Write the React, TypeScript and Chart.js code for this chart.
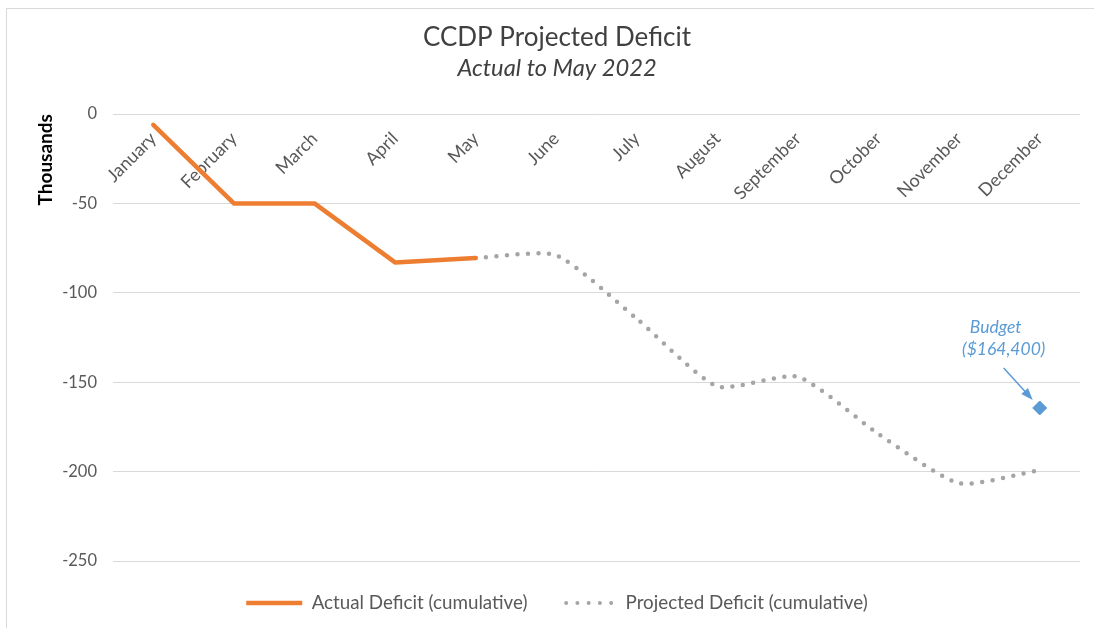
import React, { useEffect, useRef } from 'react';
import { Chart, registerables } from 'chart.js';

Chart.register(...registerables);

const months = ['January', 'February', 'March', 'April', 'May', 'June', 'July', 'August', 'September', 'October', 'November', 'December'];
const actualDeficit = [-6, -50, -50, -83, -80.5, null, null, null, null, null, null, null];
const projectedDeficit = [null, null, null, null, -80.5, -79, -114.5, -152.3, -147, -179, -206.5, -199.2];
const budgetValue = [null, null, null, null, null, null, null, null, null, null, null, -164.4];
const seriesNames = ['Actual Deficit (cumulative)', 'Projected Deficit (cumulative)', 'Budget'];
const titleText = 'CCDP Projected Deficit';
const subtitleText = 'Actual to May 2022';
const yAxisTitle = 'Thousands';
const budgetNoteLines = ['Budget', '($164,400)'];

const FONT = 'Lato, "Open Sans", sans-serif';
const ORANGE = '#ED7D31';
const GREY = '#A5A5A5';
const BLUE = '#5B9BD5';
const TEXT = '#595959';

const budgetNote = {
  id: 'budgetNote',
  afterDatasetsDraw(chart: any) {
    const meta = chart.getDatasetMeta(2);
    const pt = meta && meta.data[11];
    if (!pt) return;
    const x = pt.x;
    const y = pt.y;
    const ctx = chart.ctx;
    ctx.save();
    ctx.fillStyle = BLUE;
    ctx.strokeStyle = BLUE;
    ctx.font = `italic 17.5px ${FONT}`;
    ctx.textAlign = 'center';
    ctx.textBaseline = 'middle';
    ctx.fillText(budgetNoteLines[0], x - 44, y - 81);
    ctx.fillText(budgetNoteLines[1], x - 36, y - 59);
    const x0 = x - 36, y0 = y - 40, x1 = x - 7, y1 = y - 8;
    const ang = Math.atan2(y1 - y0, x1 - x0);
    const c = Math.cos(ang), s = Math.sin(ang);
    ctx.lineWidth = 1.5;
    ctx.beginPath();
    ctx.moveTo(x0, y0);
    ctx.lineTo(x1 - 6 * c, y1 - 6 * s);
    ctx.stroke();
    const L = 12, W = 4.5;
    ctx.beginPath();
    ctx.moveTo(x1, y1);
    ctx.lineTo(x1 - L * c + W * s, y1 - L * s - W * c);
    ctx.lineTo(x1 - L * c - W * s, y1 - L * s + W * c);
    ctx.closePath();
    ctx.fill();
    ctx.restore();
  },
};

export default function App() {
  const ref = useRef<HTMLCanvasElement | null>(null);

  useEffect(() => {
    if (!ref.current) return;
    const chart = new Chart(ref.current, {
      type: 'line',
      data: {
        labels: months,
        datasets: [
          {
            label: seriesNames[0],
            data: actualDeficit,
            borderColor: ORANGE,
            backgroundColor: ORANGE,
            borderWidth: 4.5,
            borderCapStyle: 'round',
            borderJoinStyle: 'round',
            tension: 0,
            pointRadius: 0,
            fill: false,
          },
          {
            label: seriesNames[1],
            data: projectedDeficit,
            borderColor: GREY,
            backgroundColor: GREY,
            borderWidth: 4.5,
            borderDash: [0, 10.5],
            borderCapStyle: 'round',
            borderJoinStyle: 'round',
            tension: 0.2,
            pointRadius: 0,
            fill: false,
          },
          {
            label: seriesNames[2],
            data: budgetValue,
            showLine: false,
            pointStyle: 'rectRot',
            pointRadius: 7,
            borderWidth: 1,
            borderColor: BLUE,
            backgroundColor: BLUE,
          },
        ],
      } as any,
      options: {
        responsive: false,
        animation: false,
        events: [],
        devicePixelRatio: 1,
        layout: { padding: { left: 34, right: 14, top: 0, bottom: 5.6 } },
        scales: {
          x: {
            type: 'category',
            position: { y: 0 } as any,
            offset: true,
            grid: { display: false },
            border: { display: false },
            ticks: {
              autoSkip: false,
              minRotation: 45,
              maxRotation: 45,
              padding: 6,
              color: TEXT,
              font: { family: FONT, size: 18 },
            },
          },
          y: {
            type: 'linear',
            min: -250,
            max: 0,
            afterFit: (scale: any) => {
              scale.width = 79;
            },
            grid: { color: '#D9D9D9', lineWidth: 1, drawTicks: false },
            border: { display: false },
            ticks: {
              stepSize: 50,
              padding: 16,
              color: TEXT,
              font: { family: FONT, size: 16.5 },
            },
            title: {
              display: true,
              text: yAxisTitle,
              align: 'end',
              color: '#000000',
              font: { family: FONT, size: 19, weight: 'bold' },
              padding: { top: 0, bottom: 0 },
            },
          },
        },
        plugins: {
          title: {
            display: true,
            text: titleText,
            color: '#404040',
            font: { family: FONT, size: 26, weight: 'normal' },
            padding: { top: 22, bottom: 0 },
          },
          subtitle: {
            display: true,
            text: subtitleText,
            color: '#404040',
            font: { family: FONT, size: 23.7, style: 'italic', weight: 'normal' },
            padding: { top: 0.6, bottom: 31.8 },
          },
          legend: {
            display: true,
            position: 'bottom',
            labels: {
              usePointStyle: true,
              pointStyleWidth: 56,
              padding: 32.6,
              color: TEXT,
              font: { family: FONT, size: 18.8 },
              generateLabels: () => [
                {
                  text: seriesNames[0],
                  pointStyle: 'line',
                  strokeStyle: ORANGE,
                  fillStyle: ORANGE,
                  lineWidth: 4.5,
                  lineCap: 'butt',
                  lineDash: [],
                  fontColor: TEXT,
                  datasetIndex: 0,
                  hidden: false,
                },
                {
                  text: seriesNames[1],
                  pointStyle: 'line',
                  strokeStyle: GREY,
                  fillStyle: GREY,
                  lineWidth: 4,
                  lineCap: 'round',
                  lineDash: [0, 11.25],
                  lineDashOffset: -6,
                  fontColor: TEXT,
                  datasetIndex: 1,
                  hidden: false,
                },
              ],
            },
          },
          tooltip: { enabled: false },
        },
      } as any,
      plugins: [budgetNote],
    });
    return () => chart.destroy();
  }, []);

  return (
    <div style={{ position: 'fixed', left: 0, top: 0, width: 1094, height: 628, background: '#ffffff', overflow: 'hidden' }}>
      <div
        style={{
          position: 'absolute',
          left: 6,
          top: 8,
          right: -10,
          bottom: -10,
          borderLeft: '1px solid #D9D9D9',
          borderTop: '1px solid #D9D9D9',
        }}
      />
      <canvas ref={ref} width={1094} height={628} style={{ position: 'absolute', left: 0, top: 0, width: 1094, height: 628 }} />
    </div>
  );
}
